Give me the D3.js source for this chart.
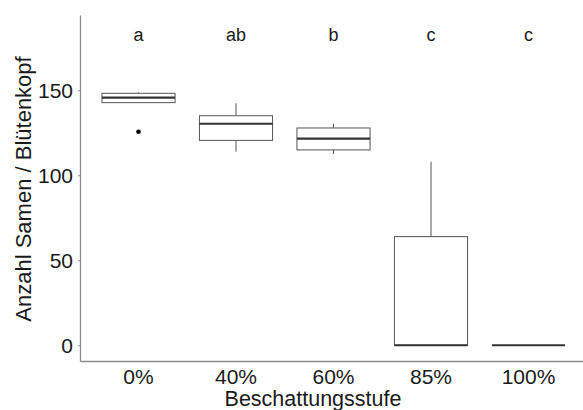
<!DOCTYPE html>
<html>
<head>
<meta charset="utf-8">
<script src="https://cdn.jsdelivr.net/npm/d3@7"></script>
<style>
  body { margin: 0; background: #fff; }
  text { font-family: "Liberation Sans", Arial, sans-serif; }
</style>
</head>
<body>
<script>
// categories and boxplot stats
var stufen = ["0%", "40%", "60%", "85%", "100%"];
var lowerWhisker = [142.7, 113.9, 112.5, 0, 0];
var q1 = [142.7, 120.5, 114.9, 0, 0];
var median = [145.6, 130.3, 121.5, 0, 0];
var q3 = [148.2, 135.0, 127.8, 63.9, 0];
var upperWhisker = [148.7, 142.3, 130.1, 108.0, 0];
var outliers = [[125.6], [], [], [], []];
var letters = ["a", "ab", "b", "c", "c"];
var letterY = 185;
var yTicks = [0, 50, 100, 150];

var width = 583, height = 410;

var svg = d3.select("body").append("svg")
  .attr("width", width)
  .attr("height", height);

// x is discrete, like ggplot with 0.6 expansion
var x = d3.scaleBand()
  .domain(stufen)
  .range([80, 587])
  .paddingInner(0.25)
  .paddingOuter(0.225);

var y = d3.scaleLinear()
  .domain([-9.25, 194.25])
  .range([361, 15]);

var data = stufen.map(function(s, i) {
  return {
    stufe: s, lo: lowerWhisker[i], q1: q1[i], med: median[i],
    q3: q3[i], hi: upperWhisker[i], out: outliers[i], letter: letters[i]
  };
});

var boxes = svg.append("g").selectAll("g")
  .data(data)
  .join("g");

// whiskers
boxes.append("line")
  .attr("x1", d => x(d.stufe) + x.bandwidth() / 2)
  .attr("x2", d => x(d.stufe) + x.bandwidth() / 2)
  .attr("y1", d => y(d.q3))
  .attr("y2", d => y(d.hi))
  .attr("stroke", "#555")
  .attr("stroke-width", 1);

boxes.append("line")
  .attr("x1", d => x(d.stufe) + x.bandwidth() / 2)
  .attr("x2", d => x(d.stufe) + x.bandwidth() / 2)
  .attr("y1", d => y(d.q1))
  .attr("y2", d => y(d.lo))
  .attr("stroke", "#555")
  .attr("stroke-width", 1);

// box
boxes.append("rect")
  .attr("x", d => x(d.stufe))
  .attr("width", x.bandwidth())
  .attr("y", d => y(d.q3))
  .attr("height", d => y(d.q1) - y(d.q3))
  .attr("fill", "#fff")
  .attr("stroke", "#555")
  .attr("stroke-width", 1);

// median
boxes.append("line")
  .attr("x1", d => x(d.stufe))
  .attr("x2", d => x(d.stufe) + x.bandwidth())
  .attr("y1", d => y(d.med))
  .attr("y2", d => y(d.med))
  .attr("stroke", "#333")
  .attr("stroke-width", 2.2);

// outliers
boxes.selectAll("circle")
  .data(d => d.out.map(v => ({ stufe: d.stufe, v: v })))
  .join("circle")
  .attr("cx", d => x(d.stufe) + x.bandwidth() / 2)
  .attr("cy", d => y(d.v))
  .attr("r", 2.3)
  .attr("fill", "#000");

// significance letters
boxes.append("text")
  .attr("x", d => x(d.stufe) + x.bandwidth() / 2)
  .attr("y", y(letterY) + 10)
  .attr("text-anchor", "middle")
  .attr("font-size", 18)
  .attr("fill", "#1a1a1a")
  .text(d => d.letter);

// axes
var yAxis = svg.append("g")
  .attr("transform", "translate(80,0)")
  .call(d3.axisLeft(y).tickValues(yTicks).tickSize(2).tickSizeOuter(0).tickPadding(5));

var xAxis = svg.append("g")
  .attr("transform", "translate(0,361)")
  .call(d3.axisBottom(x).tickSize(0).tickPadding(7));

[yAxis, xAxis].forEach(function(a) {
  a.select(".domain").attr("stroke", "#8c8c8c").attr("stroke-width", 1.3);
  a.selectAll(".tick line").attr("stroke", "#8c8c8c").attr("stroke-width", 1.1);
  a.selectAll(".tick text")
    .attr("font-size", 21)
    .attr("fill", "#1a1a1a")
    .style("font-family", "'Liberation Sans', Arial, sans-serif");
});
yAxis.selectAll(".tick text").attr("dy", "0.36em");
xAxis.selectAll(".tick text").attr("dy", "0.75em");

// axis titles
svg.append("text")
  .attr("transform", "translate(31,189) rotate(-90)")
  .attr("text-anchor", "middle")
  .attr("font-size", 22)
  .attr("fill", "#1a1a1a")
  .text("Anzahl Samen / Blütenkopf");

svg.append("text")
  .attr("x", 313)
  .attr("y", 406)
  .attr("text-anchor", "middle")
  .attr("font-size", 21.5)
  .attr("fill", "#1a1a1a")
  .text("Beschattungsstufe");
</script>
</body>
</html>
